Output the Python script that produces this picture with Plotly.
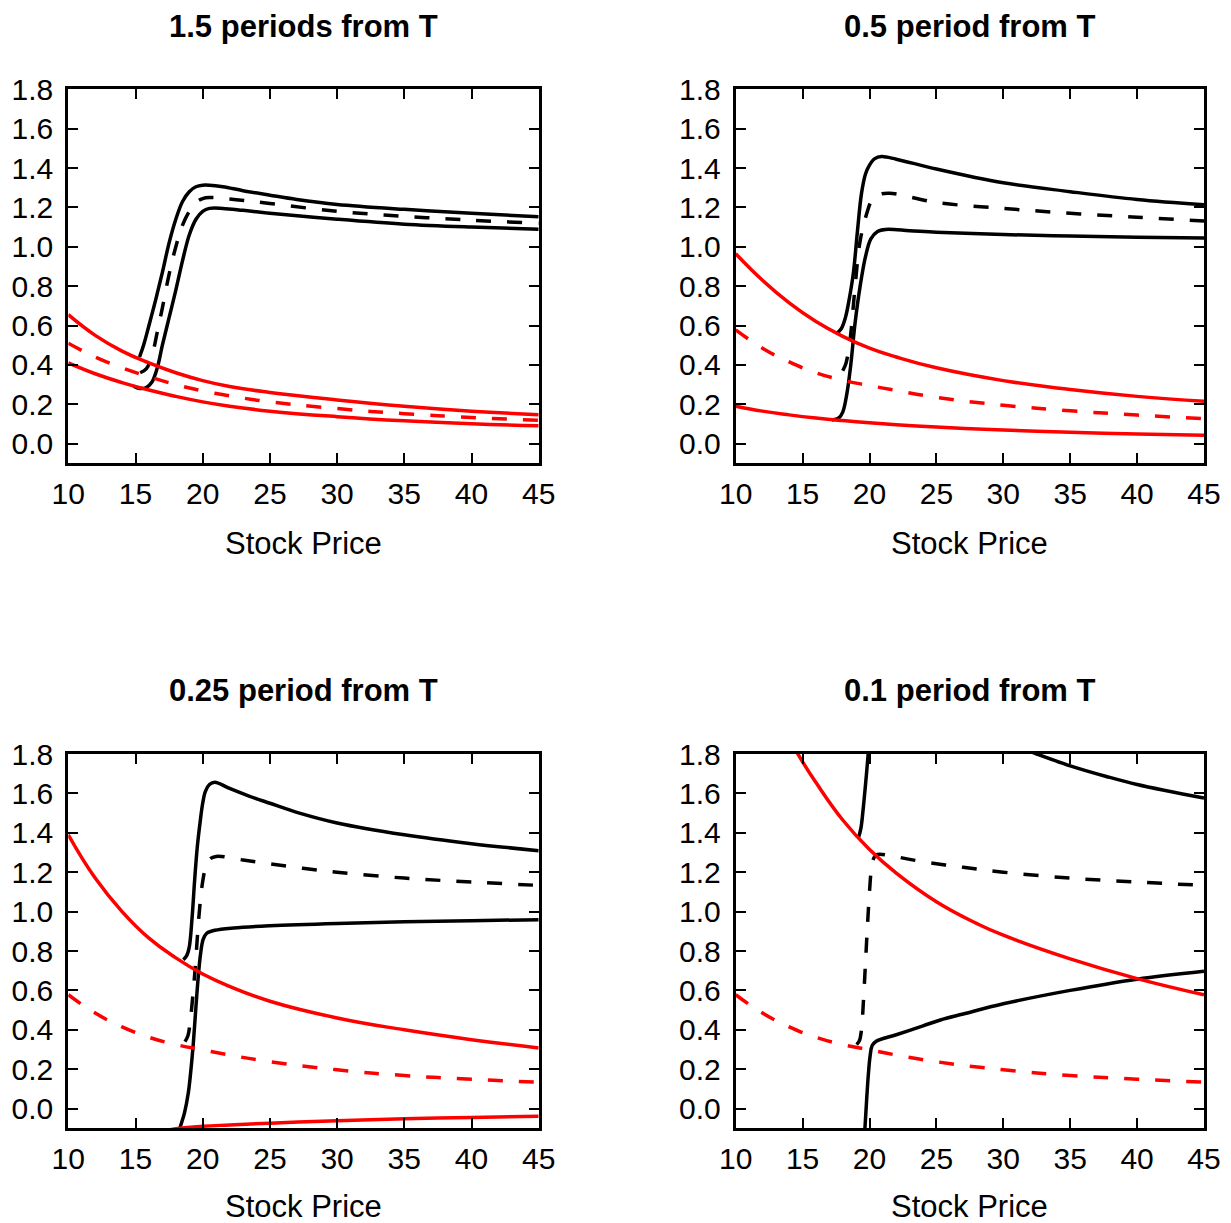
import plotly.graph_objects as go

# ---------------- data ----------------
x_ticks = [10, 15, 20, 25, 30, 35, 40, 45]
y_ticks = [0.0, 0.2, 0.4, 0.6, 0.8, 1.0, 1.2, 1.4, 1.6, 1.8]
titles = ["1.5 periods from T", "0.5 period from T", "0.25 period from T", "0.1 period from T"]
x_label = "Stock Price"

red_x = [10, 12, 14, 16, 18, 20, 22, 25, 30, 35, 40, 45]

# Panel 1: 1.5 periods from T
p1_red_up = [0.655, 0.55, 0.47, 0.41, 0.36, 0.32, 0.29, 0.26, 0.222, 0.19, 0.165, 0.147]
p1_red_mid = [0.51, 0.44, 0.385, 0.34, 0.30, 0.268, 0.243, 0.212, 0.178, 0.152, 0.133, 0.118]
p1_red_lo = [0.41, 0.355, 0.31, 0.272, 0.24, 0.212, 0.19, 0.165, 0.137, 0.116, 0.101, 0.091]
p1_blk_up_x = [15.3, 15.6, 16.0, 16.5, 17.0, 17.5, 18.0, 18.5, 19.0, 19.5, 20.0, 20.5, 21.5, 23, 25, 27, 30, 35, 40, 45]
p1_blk_up_y = [0.44, 0.5, 0.6, 0.73, 0.87, 1.02, 1.14, 1.23, 1.28, 1.305, 1.313, 1.313, 1.305, 1.285, 1.262, 1.24, 1.215, 1.19, 1.17, 1.153]
p1_blk_mid_x = [15.35, 15.8, 16.2, 16.6, 17.0, 17.5, 18.0, 18.5, 19.0, 19.5, 20.0, 20.5, 22, 25, 30, 35, 40, 45]
p1_blk_mid_y = [0.36, 0.38, 0.44, 0.56, 0.69, 0.86, 1.0, 1.11, 1.18, 1.225, 1.245, 1.25, 1.243, 1.22, 1.18, 1.155, 1.135, 1.12]
p1_blk_lo_x = [14.85, 15.3, 15.8, 16.2, 16.6, 17.0, 17.5, 18.0, 18.5, 19.0, 19.5, 20.0, 20.5, 21.5, 23, 25, 30, 35, 40, 45]
p1_blk_lo_y = [0.292, 0.28, 0.285, 0.31, 0.38, 0.5, 0.64, 0.78, 0.93, 1.06, 1.14, 1.18, 1.195, 1.195, 1.185, 1.17, 1.14, 1.115, 1.1, 1.089]

# Panel 2: 0.5 period from T
p2_red_up = [0.965, 0.83, 0.715, 0.62, 0.545, 0.485, 0.44, 0.385, 0.32, 0.275, 0.24, 0.215]
p2_red_mid = [0.578, 0.485, 0.415, 0.36, 0.322, 0.295, 0.27, 0.235, 0.195, 0.167, 0.145, 0.127]
p2_red_lo = [0.19, 0.165, 0.146, 0.13, 0.117, 0.106, 0.096, 0.084, 0.069, 0.058, 0.049, 0.042]
p2_blk_up_x = [17.55, 17.9, 18.2, 18.5, 18.8, 19.1, 19.4, 19.7, 20.0, 20.4, 20.9, 22, 25, 30, 35, 40, 45]
p2_blk_up_y = [0.56, 0.585, 0.64, 0.74, 0.87, 1.08, 1.27, 1.37, 1.415, 1.448, 1.458, 1.445, 1.395, 1.325, 1.28, 1.24, 1.213]
p2_blk_mid_x = [18.0, 18.25, 18.55, 18.9, 19.3, 19.8, 20.2, 20.7, 21.5, 25, 30, 35, 40, 45]
p2_blk_mid_y = [0.37, 0.41, 0.53, 0.78, 1.03, 1.17, 1.24, 1.265, 1.272, 1.225, 1.195, 1.17, 1.15, 1.131]
p2_blk_lo_x = [17.2, 17.7, 18.0, 18.3, 18.6, 18.9, 19.3, 19.7, 20.1, 20.6, 21.2, 23, 25, 30, 35, 40, 45]
p2_blk_lo_y = [0.12, 0.13, 0.16, 0.25, 0.4, 0.6, 0.8, 0.95, 1.04, 1.078, 1.088, 1.082, 1.074, 1.062, 1.055, 1.049, 1.044]

# Panel 3: 0.25 period from T
p3_red_up = [1.39, 1.17, 1.0, 0.865, 0.765, 0.683, 0.62, 0.545, 0.46, 0.40, 0.35, 0.308]
p3_red_mid = [0.578, 0.485, 0.415, 0.362, 0.325, 0.298, 0.272, 0.238, 0.197, 0.168, 0.149, 0.134]
p3_red_lo_x = [10, 14, 17, 18, 20, 22, 25, 30, 35, 40, 45]
p3_red_lo_y = [-0.3, -0.17, -0.115, -0.102, -0.09, -0.083, -0.074, -0.062, -0.052, -0.045, -0.039]
p3_blk_up_x = [18.56, 18.8, 19.0, 19.2, 19.4, 19.6, 19.8, 20.0, 20.2, 20.5, 20.9, 22, 23.5, 25, 27.2, 30, 35, 40, 45]
p3_blk_up_y = [0.756, 0.775, 0.82, 0.96, 1.16, 1.33, 1.45, 1.55, 1.61, 1.645, 1.657, 1.625, 1.585, 1.55, 1.5, 1.45, 1.39, 1.345, 1.309]
p3_blk_mid_x = [18.68, 18.9, 19.1, 19.3, 19.45, 19.7, 19.95, 20.2, 20.5, 21.0, 23, 25, 27.2, 30, 35, 40, 45]
p3_blk_mid_y = [0.34, 0.37, 0.46, 0.6, 0.72, 0.96, 1.13, 1.22, 1.265, 1.28, 1.262, 1.243, 1.222, 1.2, 1.17, 1.15, 1.133]
p3_blk_lo_x = [17.9, 18.3, 18.65, 18.93, 19.1, 19.3, 19.5, 19.67, 19.85, 20.04, 20.3, 20.9, 22.3, 25, 30, 35, 40, 45]
p3_blk_lo_y = [-0.2, -0.1, -0.02, 0.08, 0.18, 0.33, 0.52, 0.67, 0.79, 0.86, 0.89, 0.905, 0.917, 0.928, 0.94, 0.948, 0.954, 0.959]

# Panel 4: 0.1 period from T
p4_red_up_x = [13, 14, 15, 16, 18, 20, 22, 25, 28, 30, 35, 40, 45]
p4_red_up_y = [2.02, 1.88, 1.76, 1.655, 1.465, 1.315, 1.195, 1.05, 0.94, 0.88, 0.76, 0.66, 0.578]
p4_red_mid = [0.578, 0.485, 0.415, 0.362, 0.325, 0.298, 0.272, 0.238, 0.197, 0.168, 0.149, 0.134]
p4_blk_up_x = [19.16, 19.35, 19.54, 19.75, 19.9, 20.1, 20.5, 21.5, 23, 25, 28, 30, 32.5, 35, 37.7, 40, 45]
p4_blk_up_y = [1.373, 1.42, 1.53, 1.68, 1.8, 2.0, 2.1, 2.15, 2.1, 2.03, 1.92, 1.865, 1.8, 1.74, 1.686, 1.645, 1.576]
p4_blk_mid_x = [19.04, 19.25, 19.4, 19.55, 19.7, 19.85, 20.0, 20.15, 20.35, 20.6, 21.5, 23, 25, 27, 30, 35, 40, 45]
p4_blk_mid_y = [0.325, 0.345, 0.40, 0.55, 0.74, 0.93, 1.1, 1.22, 1.275, 1.29, 1.285, 1.265, 1.243, 1.225, 1.2, 1.17, 1.15, 1.133]
p4_blk_lo_x = [19.55, 19.66, 19.8, 19.91, 20.05, 20.2, 20.5, 22, 24, 25.3, 27, 30, 35, 40, 45]
p4_blk_lo_y = [-0.2, -0.098, 0.06, 0.17, 0.27, 0.32, 0.342, 0.375, 0.42, 0.45, 0.48, 0.532, 0.6, 0.657, 0.697]

# ---------------- figure ----------------
W, H = 1231, 1223
OFF = 8  # page body margin: figure is drawn 8px right/down of the window corner
px_left = [(68.3, 538.7), (735.7, 1204.0)]
px_rows = [(89.3, 463.3), (754.0, 1128.3)]

BLACK = "#000000"
RED = "#ff0000"
DASH = "15px,16px"
LW = 3.5

panels = [
    dict(blk=[(p1_blk_up_x, p1_blk_up_y, None), (p1_blk_mid_x, p1_blk_mid_y, DASH), (p1_blk_lo_x, p1_blk_lo_y, None)],
         red=[(red_x, p1_red_up, None), (red_x, p1_red_mid, DASH), (red_x, p1_red_lo, None)]),
    dict(blk=[(p2_blk_up_x, p2_blk_up_y, None), (p2_blk_mid_x, p2_blk_mid_y, DASH), (p2_blk_lo_x, p2_blk_lo_y, None)],
         red=[(red_x, p2_red_up, None), (red_x, p2_red_mid, DASH), (red_x, p2_red_lo, None)]),
    dict(blk=[(p3_blk_up_x, p3_blk_up_y, None), (p3_blk_mid_x, p3_blk_mid_y, DASH), (p3_blk_lo_x, p3_blk_lo_y, None)],
         red=[(red_x, p3_red_up, None), (red_x, p3_red_mid, DASH), (p3_red_lo_x, p3_red_lo_y, None)]),
    dict(blk=[(p4_blk_up_x, p4_blk_up_y, None), (p4_blk_mid_x, p4_blk_mid_y, DASH), (p4_blk_lo_x, p4_blk_lo_y, None)],
         red=[(p4_red_up_x, p4_red_up_y, None), (red_x, p4_red_mid, DASH)]),
]


def fx(px):
    return (px - OFF) / W


def fy(py):
    return 1 - (py - OFF) / H


fig = go.Figure()
FONT = "Liberation Sans, Arial, Helvetica, sans-serif"
layout = dict(
    width=W, height=H, autosize=False,
    margin=dict(l=0, r=0, t=0, b=0, pad=0, autoexpand=False),
    paper_bgcolor="white", plot_bgcolor="white", showlegend=False,
    font=dict(family=FONT, color="black", size=30),
)
annotations = []

for i, pan in enumerate(panels):
    r, c = divmod(i, 2)
    idx = "" if i == 0 else str(i + 1)
    xa, ya = "x" + idx, "y" + idx
    x0, x1 = px_left[c]
    y0, y1 = px_rows[r]
    xdom = [fx(x0), fx(x1)]
    ydom = [fy(y1), fy(y0)]
    for color, series in ((BLACK, pan["blk"]), (RED, pan["red"])):
        smooth = 1.0 if color == BLACK else 1.3
        for xs, ys, dash in series:
            fig.add_trace(go.Scatter(
                x=xs, y=ys, mode="lines", xaxis=xa, yaxis=ya,
                line=dict(color=color, width=LW, dash=dash or "solid", shape="spline", smoothing=smooth),
                hoverinfo="skip"))
    layout["xaxis" + idx] = dict(
        domain=xdom, anchor=ya, range=[10, 45], tickvals=x_ticks, ticktext=[str(v) for v in x_ticks],
        showline=True, linecolor="black", linewidth=3, mirror="ticks", ticks="inside", ticklen=10,
        tickwidth=2, tickcolor="black", showgrid=False, zeroline=False, ticklabelstandoff=2,
        automargin=False, tickfont=dict(size=30, family=FONT))
    layout["yaxis" + idx] = dict(
        domain=ydom, anchor=xa, range=[-0.1, 1.8], tickvals=y_ticks, ticktext=["%.1f" % v for v in y_ticks],
        showline=True, linecolor="black", linewidth=3, mirror="ticks", ticks="inside", ticklen=10,
        tickwidth=2, tickcolor="black", showgrid=False, zeroline=False, ticklabelstandoff=6,
        automargin=False, tickfont=dict(size=30, family=FONT))
    cx = fx((x0 + x1) / 2)
    title_y = 27 if r == 0 else 690
    xt_y = 543 if r == 0 else 1206
    annotations.append(dict(text="<b>%s</b>" % titles[i], x=cx, y=fy(title_y), xref="paper", yref="paper",
                            showarrow=False, xanchor="center", yanchor="middle", font=dict(size=31, family=FONT)))
    annotations.append(dict(text=x_label, x=cx, y=fy(xt_y), xref="paper", yref="paper",
                            showarrow=False, xanchor="center", yanchor="middle", font=dict(size=31, family=FONT)))

layout["annotations"] = annotations
fig.update_layout(**layout)
fig.write_html("out.html")
